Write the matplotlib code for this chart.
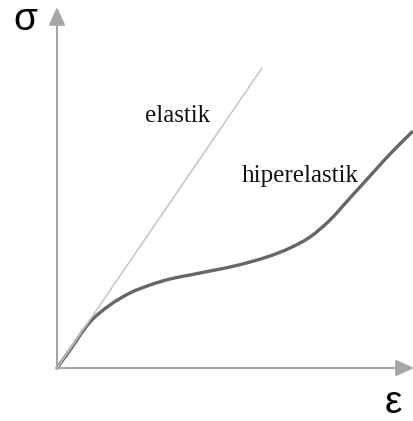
import numpy as np
import matplotlib.pyplot as plt
from matplotlib.path import Path
from matplotlib.patches import PathPatch

# elastic (linear) response, strain vs stress in arbitrary units
elastic_eps = [0, 205]
elastic_sig = [0, 300]

# hyperelastic response
hyper_eps = [0, 13, 33, 53, 73, 93, 113, 133, 153, 173, 193, 213, 233, 253, 273, 293, 313, 333, 355]
hyper_sig = [0, 18, 46, 63, 75, 83, 89, 93, 97, 101, 106, 112, 120, 131, 148, 170, 192, 214, 236]

labels = ['elastik', 'hiperelastik']


def smooth_path(xs, ys):
    # Catmull-Rom through the points, as cubic Bezier segments
    p = np.column_stack([xs, ys]).astype(float)
    p = np.vstack([p[0], p, p[-1]])
    verts = [p[1]]
    codes = [Path.MOVETO]
    for i in range(1, len(p) - 2):
        c1 = p[i] + (p[i + 1] - p[i - 1]) / 6
        c2 = p[i + 1] - (p[i + 2] - p[i]) / 6
        verts += [c1, c2, p[i + 1]]
        codes += [Path.CURVE4] * 3
    return Path(verts, codes)


fig = plt.figure(figsize=(4.14, 4.21), dpi=100)
ax = fig.add_axes([0, 0, 1, 1])
ax.set_xlim(-57, 357)
ax.set_ylim(-53, 368)
ax.axis('off')

axis_col = '#a6a6a6'
arrow = dict(arrowstyle='-|>,head_length=1.1,head_width=0.5', color=axis_col,
             lw=1.5, mutation_scale=10, shrinkA=0, shrinkB=0)
ax.annotate('', xy=(0, 361), xytext=(0, 0), arrowprops=arrow)
ax.annotate('', xy=(357, 0), xytext=(0, 0), arrowprops=arrow)

ax.plot(elastic_eps, elastic_sig, color='#c4c4c4', lw=1.1, solid_capstyle='round')
ax.add_patch(PathPatch(smooth_path(hyper_eps, hyper_sig), fill=False,
                       edgecolor='#666666', lw=2.4, capstyle='round'))

ax.text(88, 246, labels[0], family='Liberation Serif', fontsize=18, color='#111111')
ax.text(185, 186, labels[1], family='Liberation Serif', fontsize=18, color='#111111')

ax.text(-32, 348, 'σ', family='Liberation Sans', fontsize=28, ha='center', va='center')
ax.text(336, -35, 'ε', family='Liberation Sans', fontsize=28, ha='center', va='center')

fig.savefig('out.png', dpi=100)
